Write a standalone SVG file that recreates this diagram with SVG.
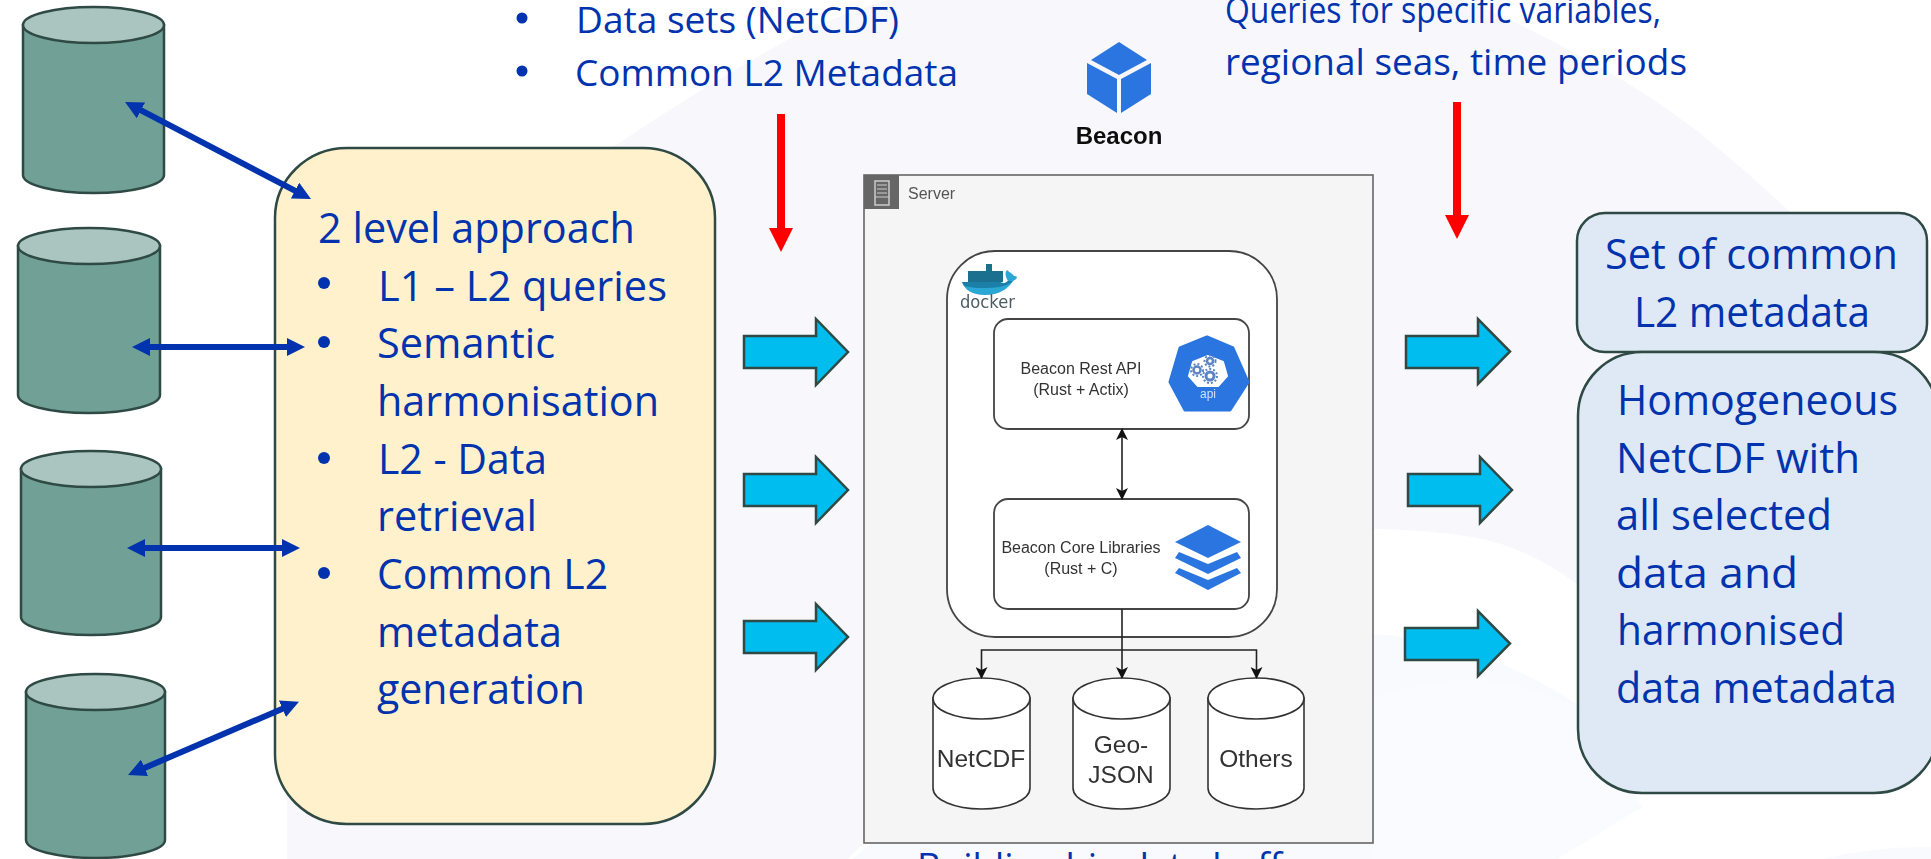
<svg xmlns="http://www.w3.org/2000/svg" width="1931" height="859" viewBox="0 0 1931 859">
<style>
.t{font-family:"Open Sans","Noto Sans","Liberation Sans",sans-serif;fill:#0033ad}
.b{font-size:42px}
.s{font-size:37px}
.a{font-family:"Liberation Sans",Arial,sans-serif;fill:#333}
.m{font-size:16px;text-anchor:middle}
.l{font-size:24.5px;text-anchor:middle}
.cy{fill:#70a096;stroke:#2f4a44;stroke-width:2.5}
.ct{fill:#aac5c0;stroke:#2f4a44;stroke-width:2.5}
.w{fill:#fff;stroke:#444;stroke-width:1.8}
.wc{fill:#fff;stroke:#333;stroke-width:1.6}
.bl{stroke:#0033ad;stroke-width:6;fill:none;marker-start:url(#bh);marker-end:url(#bh)}
.rd{stroke:#f00;stroke-width:8;fill:none;marker-end:url(#rh)}
.bk{stroke:#222;stroke-width:1.6;fill:none}
.blk{fill:#00bdf0;stroke:#2f4a44;stroke-width:2.5}
.ic{fill:#2a75e0}
.soft{filter:url(#soft)}
</style>
<defs>
<filter id="soft" x="-5%" y="-5%" width="110%" height="110%"><feGaussianBlur stdDeviation="0.45"/></filter>
<marker id="bh" markerUnits="userSpaceOnUse" markerWidth="18" markerHeight="18" viewBox="0 0 18 18" refX="9" refY="9" orient="auto-start-reverse"><path d="M0 0L18 9L0 18Z" fill="#0033ad"/></marker>
<marker id="rh" markerUnits="userSpaceOnUse" markerWidth="24" markerHeight="24" viewBox="0 0 24 24" refX="2" refY="12" orient="auto"><path d="M0 0L24 12L0 24Z" fill="#f00"/></marker>
<marker id="kh" markerUnits="userSpaceOnUse" markerWidth="12" markerHeight="12" viewBox="0 0 12 12" refX="10" refY="6" orient="auto-start-reverse"><path d="M0 0L12 6L0 12L3 6Z" fill="#111"/></marker>
</defs>
<rect width="1931" height="859" fill="#fff"/>
<g id="background">
<path d="M287 859V560L613 147Q700 88 800 33Q860 6 925 -10H1440Q1480 6 1517 23Q1560 44 1600 67Q1650 95 1700 133Q1745 170 1788 210L1900 300L1578 585Q1530 548 1473 537Q1420 529 1373 529L864 843L848 859Z" fill="#f7f7fc"/>
<path d="M852 859L1000 740Q1200 625 1373 634Q1480 640 1578 705L1642 807L1557 859Z" fill="#f9fafe"/>
<path d="M1373 698Q1420 682 1470 680Q1530 682 1585 712L1642 807L1557 859H1373Z" fill="#fafbff"/>
<path d="M1823 859Q1875 846 1931 847V859Z" fill="#f9fafe"/>
</g>
<g id="text-inputs">
<circle cx="522" cy="18" r="5.5" fill="#0033ad"/><circle cx="522" cy="71" r="5.5" fill="#0033ad"/>
<text class="t s" x="576" y="33" textLength="323" lengthAdjust="spacingAndGlyphs">Data sets (NetCDF)</text>
<text class="t s" x="575" y="86" textLength="383" lengthAdjust="spacingAndGlyphs">Common L2 Metadata</text>
</g>
<g id="text-queries">
<text class="t s" x="1225" y="23" textLength="436" lengthAdjust="spacingAndGlyphs">Queries for specific variables,</text>
<text class="t s" x="1225" y="75" textLength="462" lengthAdjust="spacingAndGlyphs">regional seas, time periods</text>
</g>
<g id="source-1"><path class="cy" d="M23 25V175C23 185 55 193 93.500 193S164 185 164 175V25Z"/><ellipse class="ct" cx="93.500" cy="25" rx="70.500" ry="18"/></g>
<g id="source-2"><path class="cy" d="M18 246V395C18 405 50 413 89 413S160 405 160 395V246Z"/><ellipse class="ct" cx="89" cy="246" rx="71" ry="18"/></g>
<g id="source-3"><path class="cy" d="M21 469V617C21 627 53 635 91 635S161 627 161 617V469Z"/><ellipse class="ct" cx="91" cy="469" rx="70" ry="18"/></g>
<g id="source-4"><path class="cy" d="M26 692V840C26 850 58 858 95.500 858S165 850 165 840V692Z"/><ellipse class="ct" cx="95.500" cy="692" rx="69.500" ry="18"/></g>
<g id="approach">
<rect x="275" y="148" width="440" height="676" rx="72" ry="70" fill="#fff1cc" stroke="#2f4a44" stroke-width="2.5"/>
<circle cx="324" cy="283" r="6" fill="#0033ad"/><circle cx="324" cy="342" r="6" fill="#0033ad"/><circle cx="324" cy="458" r="6" fill="#0033ad"/><circle cx="324" cy="573" r="6" fill="#0033ad"/>
<text class="t b" x="318" y="243" textLength="317" lengthAdjust="spacingAndGlyphs">2 level approach</text>
<text class="t b" x="378" y="301" textLength="289" lengthAdjust="spacingAndGlyphs">L1 – L2 queries</text>
<text class="t b" x="377" y="358" textLength="178" lengthAdjust="spacingAndGlyphs">Semantic</text>
<text class="t b" x="377" y="416" textLength="282" lengthAdjust="spacingAndGlyphs">harmonisation</text>
<text class="t b" x="378" y="474" textLength="169" lengthAdjust="spacingAndGlyphs">L2 - Data</text>
<text class="t b" x="377" y="531" textLength="160" lengthAdjust="spacingAndGlyphs">retrieval</text>
<text class="t b" x="377" y="589" textLength="231" lengthAdjust="spacingAndGlyphs">Common L2</text>
<text class="t b" x="377" y="647" textLength="185" lengthAdjust="spacingAndGlyphs">metadata</text>
<text class="t b" x="377" y="704" textLength="208" lengthAdjust="spacingAndGlyphs">generation</text>
</g>
<g id="beacon-logo" class="soft">
<path class="ic" d="M1119 42L1147 60L1119 75L1091 60Z"/>
<path class="ic" d="M1087 63L1117 79V113L1087 94Z"/>
<path class="ic" d="M1151 63L1121 79V113L1151 94Z"/>
<text x="1119" y="144" font-family="'Liberation Sans',Arial,sans-serif" font-weight="700" font-size="24" text-anchor="middle" fill="#111">Beacon</text>
</g>
<g id="server" class="soft">
<rect x="864" y="175" width="509" height="668" fill="#f5f5f5" stroke="#666" stroke-width="1.6"/>
<rect x="864" y="175" width="35" height="34" fill="#666"/>
<rect x="875" y="181" width="14" height="24" fill="none" stroke="#ccc" stroke-width="1.5"/>
<path d="M877 185H887M877 189H887M877 193H887M875 197H889" stroke="#ccc" stroke-width="1.2" fill="none"/>
<text class="a" x="908" y="199" font-size="16" style="fill:#555">Server</text>
</g>
<g id="docker" class="soft">
<rect class="w" x="947" y="251" width="330" height="386" rx="48"/>
<path d="M968 271h35v11h-35zM986 264h6v8h-6z" fill="#1f6f8f"/>
<path d="M962 282H1000C1003 284 1006 283 1008 281C1005 276 1005 272 1007 270C1010 273 1012 273 1014 276C1019 276 1017 279 1013 281C1008 289 999 295 985 295C972 295 965 290 962 282Z" fill="#2aa7d4"/>
<path d="M962 282H1000C1003 284 1006 283 1008 281H1013C1010 284 1005 286 999 287C985 289 973 288 964 286Z" fill="#1c7fa8"/>
<text x="960" y="308" font-family="'DejaVu Sans',sans-serif" font-size="17" fill="#4a5b62" textLength="55" lengthAdjust="spacingAndGlyphs">docker</text>
</g>
<g id="rest-api" class="soft">
<rect class="w" x="994" y="319" width="255" height="110" rx="14"/>
<text class="a m" x="1081" y="374">Beacon Rest API</text>
<text class="a m" x="1081" y="395">(Rust + Actix)</text>
<path class="ic" d="M1207 337L1233 348L1248 382L1230 410H1185L1170 382L1180 348Z" stroke="#2a75e0" stroke-width="3" stroke-linejoin="round"/>
<path d="M1208 356L1223 362L1227 376L1218 386H1198L1189 376L1193 362Z" fill="#fff" stroke="#fff" stroke-width="2" stroke-linejoin="round"/>
<g fill="none" stroke="#5b85c4"><circle cx="1197" cy="370" r="3.500" stroke-width="2.500"/><circle cx="1197" cy="370" r="6" stroke-width="2" stroke-dasharray="2 2"/><circle cx="1210" cy="361" r="3" stroke-width="2.500"/><circle cx="1210" cy="361" r="5.500" stroke-width="2" stroke-dasharray="2 2"/><circle cx="1210" cy="376" r="4" stroke-width="3"/><circle cx="1210" cy="376" r="7" stroke-width="2" stroke-dasharray="2 2"/></g>
<text x="1208" y="398" font-family="'Liberation Sans',sans-serif" font-size="12" text-anchor="middle" fill="#cfe0fa">api</text>
</g>
<g id="core-libraries" class="soft">
<rect class="w" x="994" y="499" width="255" height="110" rx="14"/>
<text class="a m" x="1081" y="553">Beacon Core Libraries</text>
<text class="a m" x="1081" y="574">(Rust + C)</text>
<path class="ic" d="M1208 525L1241 542L1208 558L1175 542Z"/>
<path class="ic" d="M1179 552L1208 564L1237 552L1241 558L1208 574L1175 558Z"/>
<path class="ic" d="M1179 568L1208 580L1237 568L1241 573L1208 590L1175 573Z"/>
</g>
<g id="store-netcdf" class="soft"><path class="wc" d="M933 698V788C933 800 955 809 981.500 809S1030 800 1030 788V698Z"/><ellipse class="wc" cx="981.500" cy="698.500" rx="48.500" ry="20.500"/><text class="a l" x="981" y="767">NetCDF</text></g>
<g id="store-geojson" class="soft"><path class="wc" d="M1073 698V788C1073 800 1095 809 1121.500 809S1170 800 1170 788V698Z"/><ellipse class="wc" cx="1121.500" cy="698.500" rx="48.500" ry="20.500"/><text class="a l" x="1121" y="753">Geo-</text><text class="a l" x="1121" y="783">JSON</text></g>
<g id="store-others" class="soft"><path class="wc" d="M1208 698V788C1208 800 1230 809 1256 809S1304 800 1304 788V698Z"/><ellipse class="wc" cx="1256" cy="698.500" rx="48" ry="20.500"/><text class="a l" x="1256" y="767">Others</text></g>
<g id="result-metadata">
<rect x="1577" y="213" width="350" height="139" rx="28" fill="#dee9f5" stroke="#2f4a44" stroke-width="2.5"/>
<text class="t b" x="1605" y="269" textLength="293" lengthAdjust="spacingAndGlyphs">Set of common</text>
<text class="t b" x="1634" y="327" textLength="236" lengthAdjust="spacingAndGlyphs">L2 metadata</text>
</g>
<g id="result-netcdf">
<rect x="1578" y="352" width="360" height="441" rx="64" fill="#dee9f5" stroke="#2f4a44" stroke-width="2.5"/>
<text class="t b" x="1617" y="415" textLength="281" lengthAdjust="spacingAndGlyphs">Homogeneous</text>
<text class="t b" x="1616" y="473" textLength="244" lengthAdjust="spacingAndGlyphs">NetCDF with</text>
<text class="t b" x="1616" y="530" textLength="216" lengthAdjust="spacingAndGlyphs">all selected</text>
<text class="t b" x="1616" y="588" textLength="182" lengthAdjust="spacingAndGlyphs">data and</text>
<text class="t b" x="1617" y="645" textLength="228" lengthAdjust="spacingAndGlyphs">harmonised</text>
<text class="t b" x="1616" y="703" textLength="281" lengthAdjust="spacingAndGlyphs">data metadata</text>
</g>
<text id="caption" class="t s" x="917" y="879" textLength="365" lengthAdjust="spacingAndGlyphs">Building big data buff</text>
<g id="connectors">
<line class="bl" x1="133" y1="106.200" x2="303" y2="194.800"/>
<line class="bl" x1="141" y1="347" x2="296" y2="347"/>
<line class="bl" x1="136" y1="548" x2="291" y2="548"/>
<line class="bl" x1="136.300" y1="771.400" x2="290.700" y2="705.200"/>
<line class="rd" x1="781" y1="114" x2="781" y2="230"/>
<line class="rd" x1="1457" y1="102" x2="1457" y2="217"/>
<polygon class="blk" points="744,336 816,336 816,319 848,352 816,385 816,368 744,368"/>
<polygon class="blk" points="744,474 816,474 816,457 848,490 816,523 816,506 744,506"/>
<polygon class="blk" points="744,621 816,621 816,604 848,637 816,670 816,653 744,653"/>
<polygon class="blk" points="1406,336 1478,336 1478,319 1510,351.500 1478,384 1478,368 1406,368"/>
<polygon class="blk" points="1408,474 1480,474 1480,457 1512,490 1480,523 1480,506 1408,506"/>
<polygon class="blk" points="1405,628 1478,628 1478,611 1510,643.500 1478,676 1478,660 1405,660"/>
<line class="bk" x1="1122" y1="430" x2="1122" y2="498" marker-start="url(#kh)" marker-end="url(#kh)"/>
<path class="bk" d="M1122 609V677" marker-end="url(#kh)"/>
<path class="bk" d="M1122 650H981.500V677" marker-end="url(#kh)"/>
<path class="bk" d="M1122 650H1256.500V677" marker-end="url(#kh)"/>
</g>
</svg>
